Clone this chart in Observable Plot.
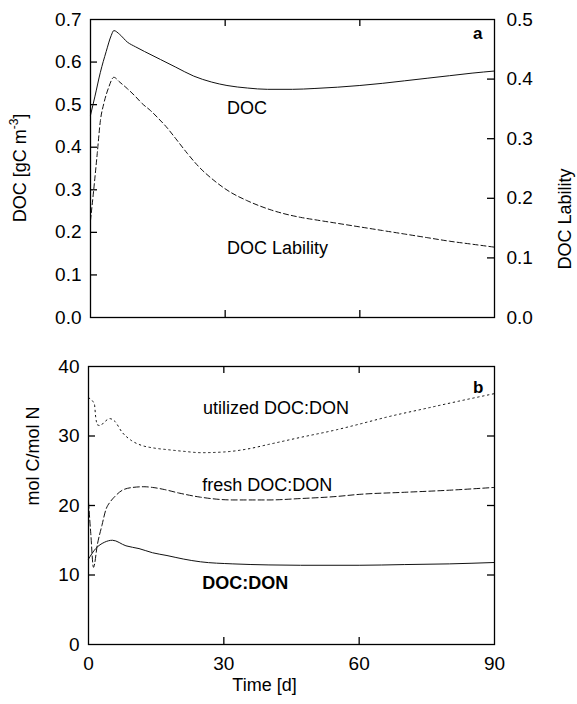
<!DOCTYPE html>
<html>
<head>
<meta charset="utf-8">
<script src="https://cdn.jsdelivr.net/npm/d3@7"></script>
<script src="https://cdn.jsdelivr.net/npm/@observablehq/plot@0.6"></script>
<style>
  html, body { margin: 0; padding: 0; background: #fff; }
  #chart svg { display: block; }
</style>
</head>
<body>
<div id="chart"></div>
<script>
// ---------- Data ----------
// Panel a: DOC concentration [gC m^-3] (left axis)
const docDays = [0, 1, 2.2, 3.5, 4.6, 5.2, 6.5, 8.2, 10, 12, 15.6, 19, 23, 27, 30.4, 35, 39.4, 45, 50, 55, 60, 65, 70, 75, 80, 85, 90];
const docValues = [0.475, 0.52, 0.576, 0.625, 0.662, 0.674, 0.665, 0.647, 0.636, 0.625, 0.606, 0.588, 0.567, 0.553, 0.545, 0.539, 0.536, 0.536, 0.538, 0.541, 0.545, 0.55, 0.556, 0.562, 0.568, 0.574, 0.579];
// Panel a: DOC lability (right axis, 0-0.5)
const labDays = [0, 0.7, 1.5, 2.2, 3, 4, 5.2, 6.5, 8.2, 10, 11.5, 13.4, 15, 17.1, 19, 21.5, 24, 27.5, 31, 34.9, 40, 46.8, 50, 55, 60, 65, 70, 75, 80, 85, 90];
const labValues = [0.163, 0.213, 0.275, 0.33, 0.36, 0.385, 0.403, 0.395, 0.384, 0.371, 0.359, 0.347, 0.335, 0.318, 0.3, 0.276, 0.254, 0.23, 0.211, 0.196, 0.181, 0.168, 0.164, 0.158, 0.152, 0.146, 0.140, 0.134, 0.128, 0.123, 0.118];
// Panel b: utilized DOC:DON
const utilDays = [0, 1.3, 1.6, 2.0, 2.6, 3.5, 4.7, 5.7, 7.5, 9.4, 12, 14.2, 18, 21, 25, 30, 35, 40, 47, 55, 60, 66, 75, 82, 90];
const utilValues = [35.5, 34.6, 32.7, 31.6, 31.5, 32.0, 32.5, 32.2, 30.5, 29.4, 28.6, 28.3, 28.0, 27.8, 27.6, 27.7, 28.1, 28.8, 29.8, 30.9, 31.7, 32.7, 34.0, 35.0, 36.1];
// Panel b: fresh DOC:DON
const freshDays = [0, 0.5, 1.1, 2.0, 3.0, 3.8, 4.9, 5.7, 7.5, 9.8, 12.3, 14.2, 16.8, 20, 24.8, 32, 40, 47, 55, 60, 70, 80, 90];
const freshValues = [20.5, 16, 11.1, 14.5, 17.2, 19.3, 20.6, 21.2, 22.2, 22.6, 22.7, 22.6, 22.3, 21.8, 21.2, 20.8, 20.8, 21.0, 21.3, 21.6, 21.9, 22.2, 22.6];
// Panel b: DOC:DON
const ratioDays = [0, 1.6, 3.5, 5.3, 8.3, 11.2, 14.2, 17.4, 21, 24.8, 32, 40, 47, 60, 70, 80, 90];
const ratioValues = [12.3, 13.8, 14.7, 15.0, 14.2, 13.8, 13.2, 12.8, 12.3, 11.9, 11.6, 11.45, 11.4, 11.4, 11.5, 11.6, 11.8];

// Tick labels
const timeTicks = [0, 30, 60, 90];
const docTicks = [0, 0.1, 0.2, 0.3, 0.4, 0.5, 0.6, 0.7];
const labTicks = [0, 0.1, 0.2, 0.3, 0.4, 0.5];
const ratioTicks = [0, 10, 20, 30, 40];

// ---------- Helpers ----------
const K = 0.7 / 0.5; // right-axis (lability) units -> left-axis units
const table = (xs, ys) => xs.map((t, i) => ({t, v: ys[i]}));
const FONT = "'Liberation Sans', Arial, Helvetica, sans-serif";
const W = 577;
const TICK = 7;
const TF = 19; // tick label font size

// ---------- Panel a ----------
const aM = {top: 19, bottom: 23, left: 90, right: 83};
const aH = 340;
const aPW = W - aM.left - aM.right, aPH = aH - aM.top - aM.bottom;

const panelA = Plot.plot({
  width: W, height: aH,
  marginTop: aM.top, marginBottom: aM.bottom, marginLeft: aM.left, marginRight: aM.right,
  x: {domain: [0, 90], axis: null},
  y: {domain: [0, 0.7], axis: null},
  style: {fontFamily: FONT, fontSize: "18px", color: "#000", background: "#fff"},
  marks: [
    Plot.axisY(docTicks, {anchor: "left", tickSize: 0, tickPadding: 9, tickFormat: d3.format(".1f"), label: null, fontSize: TF}),
    Plot.axisY(labTicks.map(v => v * K), {anchor: "right", tickSize: 0, tickPadding: 12, tickFormat: v => (v / K).toFixed(1), label: null, fontSize: TF}),
    Plot.tickY(docTicks.slice(1, -1), {y: d => d, insetRight: aPW - TICK, stroke: "#000", strokeWidth: 1.3}),
    Plot.tickY(labTicks.slice(1, -1).map(v => v * K), {y: d => d, insetLeft: aPW - TICK, stroke: "#000", strokeWidth: 1.3}),
    Plot.tickX(timeTicks.slice(1, -1), {x: d => d, insetBottom: aPH - TICK, stroke: "#000", strokeWidth: 1.3}),
    Plot.tickX(timeTicks.slice(1, -1), {x: d => d, insetTop: aPH - TICK, stroke: "#000", strokeWidth: 1.3}),
    Plot.line(table(docDays, docValues), {x: "t", y: "v", stroke: "#111", strokeWidth: 1, curve: "monotone-x"}),
    Plot.line(table(labDays, labValues), {x: "t", y: d => d.v * K, stroke: "#111", strokeWidth: 1, strokeDasharray: "5,3", curve: "monotone-x"}),
    Plot.text(["DOC"], {x: 30.4, y: 0.491, textAnchor: "start", fontSize: 18, fill: "#000"}),
    Plot.text(["DOC Lability"], {x: 30.4, y: 0.162, textAnchor: "start", fontSize: 18, fill: "#000"}),
    Plot.text(["a"], {frameAnchor: "top-right", dx: -12, dy: 19, lineAnchor: "bottom", textAnchor: "end", fontSize: 17, fontWeight: "bold", fill: "#000"}),
    Plot.text(["DOC Lability"], {frameAnchor: "right", dx: 71, rotate: -90, fontSize: 18, fill: "#000"}),
    Plot.frame({stroke: "#000", strokeWidth: 1.3})
  ]
});

// Left axis label with a real superscript
const sa = d3.select(panelA.tagName.toLowerCase() === "svg" ? panelA : panelA.querySelector("svg"));
const lab = sa.append("text")
  .attr("transform", "translate(20,168) rotate(-90)")
  .attr("text-anchor", "middle")
  .attr("dy", "0.35em")
  .attr("font-family", FONT)
  .attr("font-size", 18)
  .attr("fill", "#000");
lab.append("tspan").text("DOC [gC m");
lab.append("tspan").attr("font-size", 12).attr("dy", -8).text("-3");
lab.append("tspan").attr("dy", 8).text("]");

// ---------- Panel b ----------
const bM = {top: 26, bottom: 60, left: 88, right: 83};
const bH = 364;
const bPW = W - bM.left - bM.right, bPH = bH - bM.top - bM.bottom;

const panelB = Plot.plot({
  width: W, height: bH,
  marginTop: bM.top, marginBottom: bM.bottom, marginLeft: bM.left, marginRight: bM.right,
  x: {domain: [0, 90], axis: null},
  y: {domain: [0, 40], axis: null},
  style: {fontFamily: FONT, fontSize: "18px", color: "#000", background: "#fff"},
  marks: [
    Plot.axisY(ratioTicks, {anchor: "left", tickSize: 0, tickPadding: 9, label: null, fontSize: TF}),
    Plot.axisX(timeTicks, {anchor: "bottom", tickSize: 0, tickPadding: 12, label: null, fontSize: TF}),
    Plot.tickY(ratioTicks.slice(1, -1), {y: d => d, insetRight: bPW - TICK, stroke: "#000", strokeWidth: 1.3}),
    Plot.tickY(ratioTicks.slice(1, -1), {y: d => d, insetLeft: bPW - TICK, stroke: "#000", strokeWidth: 1.3}),
    Plot.tickX(timeTicks.slice(1, -1), {x: d => d, insetBottom: bPH - TICK, stroke: "#000", strokeWidth: 1.3}),
    Plot.tickX(timeTicks.slice(1, -1), {x: d => d, insetTop: bPH - TICK, stroke: "#000", strokeWidth: 1.3}),
    Plot.line(table(utilDays, utilValues), {x: "t", y: "v", stroke: "#111", strokeWidth: 1, strokeDasharray: "1.5,3.5", curve: "monotone-x"}),
    Plot.line(table(freshDays, freshValues), {x: "t", y: "v", stroke: "#111", strokeWidth: 1, strokeDasharray: "6,3", curve: "monotone-x"}),
    Plot.line(table(ratioDays, ratioValues), {x: "t", y: "v", stroke: "#111", strokeWidth: 1, curve: "monotone-x"}),
    Plot.text(["utilized DOC:DON"], {x: 25.4, y: 34.0, textAnchor: "start", fontSize: 18, fill: "#000"}),
    Plot.text(["fresh DOC:DON"], {x: 25.2, y: 22.9, textAnchor: "start", fontSize: 18, fill: "#000"}),
    Plot.text(["DOC:DON"], {x: 25.2, y: 8.8, textAnchor: "start", fontSize: 18, fontWeight: "bold", fill: "#000"}),
    Plot.text(["b"], {frameAnchor: "top-right", dx: -11, dy: 26, lineAnchor: "bottom", textAnchor: "end", fontSize: 17, fontWeight: "bold", fill: "#000"}),
    Plot.text(["mol C/mol N"], {frameAnchor: "left", dx: -55, rotate: -90, fontSize: 18, fill: "#000"}),
    Plot.text(["Time [d]"], {frameAnchor: "bottom", dx: -27, dy: 46, fontSize: 18, fill: "#000"}),
    Plot.frame({stroke: "#000", strokeWidth: 1.3})
  ]
});

const chart = document.getElementById("chart");
chart.appendChild(panelA);
chart.appendChild(panelB);
</script>
</body>
</html>
